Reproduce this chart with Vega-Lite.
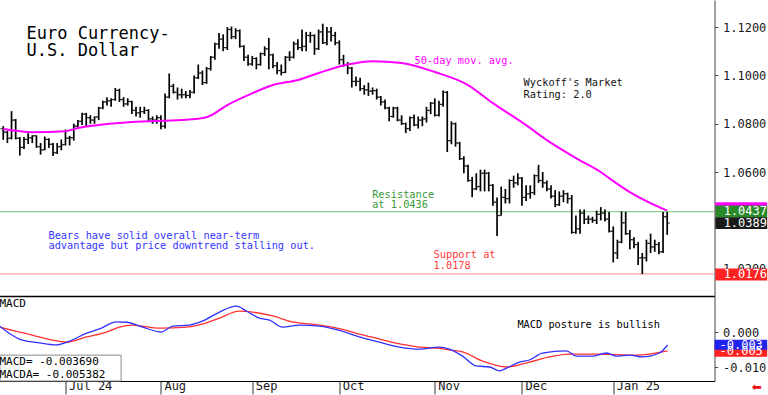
{
  "$schema": "https://vega.github.io/schema/vega-lite/v6.json",
  "padding": {"left": -3.5, "top": 0, "right": 0, "bottom": 0},
  "background": "white",
  "spacing": 0,
  "config": {
    "view": {"stroke": null},
    "axis": {"grid": false, "title": null, "labelFont": "DejaVu Sans Mono", "labelFontSize": 12, "labelColor": "#1a1a1a", "domainColor": "#444", "tickColor": "#444", "labelOverlap": false},
    "text": {"font": "DejaVu Sans Mono"}
  },
  "datasets": {
    "ohlc": [
      {"d":0,"o":1.0780,"h":1.0790,"l":1.0733,"c":1.0765},
      {"d":1,"o":1.0765,"h":1.0770,"l":1.0720,"c":1.0740},
      {"d":2,"o":1.0740,"h":1.0852,"l":1.0735,"c":1.0815},
      {"d":3,"o":1.0815,"h":1.0820,"l":1.0735,"c":1.0740},
      {"d":4,"o":1.0740,"h":1.0745,"l":1.0668,"c":1.0702},
      {"d":5,"o":1.0702,"h":1.0745,"l":1.0695,"c":1.0735},
      {"d":6,"o":1.0735,"h":1.0761,"l":1.0716,"c":1.0742},
      {"d":7,"o":1.0742,"h":1.0752,"l":1.0720,"c":1.0750},
      {"d":8,"o":1.0750,"h":1.0752,"l":1.0700,"c":1.0705},
      {"d":9,"o":1.0705,"h":1.0720,"l":1.0672,"c":1.0692},
      {"d":10,"o":1.0692,"h":1.0747,"l":1.0690,"c":1.0735},
      {"d":11,"o":1.0735,"h":1.0740,"l":1.0700,"c":1.0715},
      {"d":12,"o":1.0715,"h":1.0720,"l":1.0666,"c":1.0680},
      {"d":13,"o":1.0680,"h":1.0720,"l":1.0675,"c":1.0705},
      {"d":14,"o":1.0705,"h":1.0735,"l":1.0690,"c":1.0713},
      {"d":15,"o":1.0713,"h":1.0776,"l":1.0710,"c":1.0740},
      {"d":16,"o":1.0740,"h":1.0750,"l":1.0710,"c":1.0742},
      {"d":17,"o":1.0742,"h":1.0800,"l":1.0730,"c":1.0790},
      {"d":18,"o":1.0790,"h":1.0815,"l":1.0780,"c":1.0810},
      {"d":19,"o":1.0810,"h":1.0845,"l":1.0795,"c":1.0840},
      {"d":20,"o":1.0840,"h":1.0845,"l":1.0790,"c":1.0825},
      {"d":21,"o":1.0825,"h":1.0835,"l":1.0800,"c":1.0815},
      {"d":22,"o":1.0815,"h":1.0830,"l":1.0800,"c":1.0828},
      {"d":23,"o":1.0828,"h":1.0870,"l":1.0815,"c":1.0865},
      {"d":24,"o":1.0865,"h":1.0895,"l":1.0860,"c":1.0890},
      {"d":25,"o":1.0890,"h":1.0910,"l":1.0875,"c":1.0895},
      {"d":26,"o":1.0895,"h":1.0905,"l":1.0870,"c":1.0900},
      {"d":27,"o":1.0900,"h":1.0948,"l":1.0895,"c":1.0938},
      {"d":28,"o":1.0938,"h":1.0945,"l":1.0890,"c":1.0900},
      {"d":29,"o":1.0900,"h":1.0910,"l":1.0870,"c":1.0882},
      {"d":30,"o":1.0882,"h":1.0905,"l":1.0875,"c":1.0892},
      {"d":31,"o":1.0892,"h":1.0895,"l":1.0840,"c":1.0855},
      {"d":32,"o":1.0855,"h":1.0870,"l":1.0830,"c":1.0845},
      {"d":33,"o":1.0845,"h":1.0870,"l":1.0825,"c":1.0850},
      {"d":34,"o":1.0850,"h":1.0870,"l":1.0840,"c":1.0855},
      {"d":35,"o":1.0855,"h":1.0860,"l":1.0810,"c":1.0820},
      {"d":36,"o":1.0820,"h":1.0830,"l":1.0800,"c":1.0815},
      {"d":37,"o":1.0815,"h":1.0835,"l":1.0800,"c":1.0825},
      {"d":38,"o":1.0825,"h":1.0835,"l":1.0777,"c":1.0790},
      {"d":39,"o":1.0790,"h":1.0925,"l":1.0780,"c":1.0910},
      {"d":40,"o":1.0910,"h":1.1008,"l":1.0905,"c":1.0955},
      {"d":41,"o":1.0955,"h":1.0965,"l":1.0925,"c":1.0930},
      {"d":42,"o":1.0930,"h":1.0950,"l":1.0900,"c":1.0920},
      {"d":43,"o":1.0920,"h":1.0945,"l":1.0905,"c":1.0920},
      {"d":44,"o":1.0920,"h":1.0935,"l":1.0905,"c":1.0917},
      {"d":45,"o":1.0917,"h":1.0940,"l":1.0905,"c":1.0930},
      {"d":46,"o":1.0930,"h":1.1000,"l":1.0925,"c":1.0990},
      {"d":47,"o":1.0990,"h":1.1045,"l":1.0985,"c":1.1010},
      {"d":48,"o":1.1010,"h":1.1020,"l":1.0960,"c":1.0970},
      {"d":49,"o":1.0970,"h":1.1035,"l":1.0965,"c":1.1028},
      {"d":50,"o":1.1028,"h":1.1080,"l":1.1020,"c":1.1075},
      {"d":51,"o":1.1075,"h":1.1135,"l":1.1065,"c":1.1130},
      {"d":52,"o":1.1130,"h":1.1175,"l":1.1110,"c":1.1150},
      {"d":53,"o":1.1150,"h":1.1170,"l":1.1100,"c":1.1115},
      {"d":54,"o":1.1115,"h":1.1200,"l":1.1105,"c":1.1190},
      {"d":55,"o":1.1190,"h":1.1202,"l":1.1150,"c":1.1160},
      {"d":56,"o":1.1160,"h":1.1195,"l":1.1150,"c":1.1185},
      {"d":57,"o":1.1185,"h":1.1190,"l":1.1115,"c":1.1120},
      {"d":58,"o":1.1120,"h":1.1125,"l":1.1060,"c":1.1075},
      {"d":59,"o":1.1075,"h":1.1085,"l":1.1040,"c":1.1047},
      {"d":60,"o":1.1047,"h":1.1080,"l":1.1040,"c":1.1070},
      {"d":61,"o":1.1070,"h":1.1075,"l":1.1025,"c":1.1045},
      {"d":62,"o":1.1045,"h":1.1095,"l":1.1040,"c":1.1090},
      {"d":63,"o":1.1090,"h":1.1120,"l":1.1080,"c":1.1110},
      {"d":64,"o":1.1110,"h":1.1155,"l":1.1025,"c":1.1085},
      {"d":65,"o":1.1085,"h":1.1090,"l":1.1030,"c":1.1040},
      {"d":66,"o":1.1040,"h":1.1055,"l":1.1005,"c":1.1020},
      {"d":67,"o":1.1020,"h":1.1045,"l":1.1000,"c":1.1012},
      {"d":68,"o":1.1012,"h":1.1080,"l":1.1010,"c":1.1075},
      {"d":69,"o":1.1075,"h":1.1100,"l":1.1060,"c":1.1075},
      {"d":70,"o":1.1075,"h":1.1140,"l":1.1070,"c":1.1130},
      {"d":71,"o":1.1130,"h":1.1150,"l":1.1105,"c":1.1115},
      {"d":72,"o":1.1115,"h":1.1190,"l":1.1100,"c":1.1120},
      {"d":73,"o":1.1120,"h":1.1180,"l":1.1100,"c":1.1165},
      {"d":74,"o":1.1165,"h":1.1180,"l":1.1135,"c":1.1165},
      {"d":75,"o":1.1165,"h":1.1170,"l":1.1085,"c":1.1110},
      {"d":76,"o":1.1110,"h":1.1190,"l":1.1105,"c":1.1180},
      {"d":77,"o":1.1180,"h":1.1214,"l":1.1130,"c":1.1135},
      {"d":78,"o":1.1135,"h":1.1200,"l":1.1125,"c":1.1180},
      {"d":79,"o":1.1180,"h":1.1200,"l":1.1140,"c":1.1165},
      {"d":80,"o":1.1165,"h":1.1180,"l":1.1125,"c":1.1135},
      {"d":81,"o":1.1135,"h":1.1145,"l":1.1045,"c":1.1065},
      {"d":82,"o":1.1065,"h":1.1085,"l":1.1035,"c":1.1045},
      {"d":83,"o":1.1045,"h":1.1055,"l":1.1005,"c":1.1030},
      {"d":84,"o":1.1030,"h":1.1035,"l":1.0950,"c":1.0975},
      {"d":85,"o":1.0975,"h":1.0995,"l":1.0955,"c":1.0975},
      {"d":86,"o":1.0975,"h":1.0990,"l":1.0935,"c":1.0945},
      {"d":87,"o":1.0945,"h":1.0960,"l":1.0920,"c":1.0940},
      {"d":88,"o":1.0940,"h":1.0970,"l":1.0915,"c":1.0935},
      {"d":89,"o":1.0935,"h":1.0950,"l":1.0920,"c":1.0937},
      {"d":90,"o":1.0937,"h":1.0945,"l":1.0900,"c":1.0910},
      {"d":91,"o":1.0910,"h":1.0915,"l":1.0875,"c":1.0890},
      {"d":92,"o":1.0890,"h":1.0900,"l":1.0860,"c":1.0865},
      {"d":93,"o":1.0865,"h":1.0870,"l":1.0810,"c":1.0830},
      {"d":94,"o":1.0830,"h":1.0870,"l":1.0825,"c":1.0865},
      {"d":95,"o":1.0865,"h":1.0870,"l":1.0810,"c":1.0815},
      {"d":96,"o":1.0815,"h":1.0835,"l":1.0795,"c":1.0800},
      {"d":97,"o":1.0800,"h":1.0805,"l":1.0761,"c":1.0780},
      {"d":98,"o":1.0780,"h":1.0830,"l":1.0770,"c":1.0825},
      {"d":99,"o":1.0825,"h":1.0838,"l":1.0790,"c":1.0795},
      {"d":100,"o":1.0795,"h":1.0830,"l":1.0780,"c":1.0815},
      {"d":101,"o":1.0815,"h":1.0830,"l":1.0790,"c":1.0820},
      {"d":102,"o":1.0820,"h":1.0870,"l":1.0805,"c":1.0855},
      {"d":103,"o":1.0855,"h":1.0890,"l":1.0840,"c":1.0885},
      {"d":104,"o":1.0885,"h":1.0905,"l":1.0830,"c":1.0835},
      {"d":105,"o":1.0835,"h":1.0895,"l":1.0830,"c":1.0880},
      {"d":106,"o":1.0880,"h":1.0937,"l":1.0870,"c":1.0930},
      {"d":107,"o":1.0930,"h":1.0935,"l":1.0683,"c":1.0730},
      {"d":108,"o":1.0730,"h":1.0810,"l":1.0715,"c":1.0800},
      {"d":109,"o":1.0800,"h":1.0805,"l":1.0705,"c":1.0720},
      {"d":110,"o":1.0720,"h":1.0725,"l":1.0650,"c":1.0655},
      {"d":111,"o":1.0655,"h":1.0665,"l":1.0595,"c":1.0625},
      {"d":112,"o":1.0625,"h":1.0630,"l":1.0560,"c":1.0565},
      {"d":113,"o":1.0565,"h":1.0580,"l":1.0496,"c":1.0530},
      {"d":114,"o":1.0530,"h":1.0595,"l":1.0525,"c":1.0540},
      {"d":115,"o":1.0540,"h":1.0610,"l":1.0520,"c":1.0595},
      {"d":116,"o":1.0595,"h":1.0610,"l":1.0520,"c":1.0595},
      {"d":117,"o":1.0595,"h":1.0600,"l":1.0520,"c":1.0545},
      {"d":118,"o":1.0545,"h":1.0550,"l":1.0460,"c":1.0475},
      {"d":119,"o":1.0475,"h":1.0495,"l":1.0335,"c":1.0420},
      {"d":120,"o":1.0420,"h":1.0540,"l":1.0420,"c":1.0495},
      {"d":121,"o":1.0495,"h":1.0530,"l":1.0470,"c":1.0490},
      {"d":122,"o":1.0490,"h":1.0570,"l":1.0470,"c":1.0565},
      {"d":123,"o":1.0565,"h":1.0585,"l":1.0535,"c":1.0555},
      {"d":124,"o":1.0555,"h":1.0595,"l":1.0545,"c":1.0575},
      {"d":125,"o":1.0575,"h":1.0580,"l":1.0460,"c":1.0495},
      {"d":126,"o":1.0495,"h":1.0545,"l":1.0480,"c":1.0510},
      {"d":127,"o":1.0510,"h":1.0545,"l":1.0490,"c":1.0515},
      {"d":128,"o":1.0515,"h":1.0590,"l":1.0505,"c":1.0585},
      {"d":129,"o":1.0585,"h":1.0630,"l":1.0555,"c":1.0565},
      {"d":130,"o":1.0565,"h":1.0600,"l":1.0535,"c":1.0555},
      {"d":131,"o":1.0555,"h":1.0565,"l":1.0520,"c":1.0530},
      {"d":132,"o":1.0530,"h":1.0545,"l":1.0490,"c":1.0500},
      {"d":133,"o":1.0500,"h":1.0525,"l":1.0455,"c":1.0465},
      {"d":134,"o":1.0465,"h":1.0520,"l":1.0460,"c":1.0500},
      {"d":135,"o":1.0500,"h":1.0525,"l":1.0475,"c":1.0510},
      {"d":136,"o":1.0510,"h":1.0515,"l":1.0470,"c":1.0490},
      {"d":137,"o":1.0490,"h":1.0505,"l":1.0345,"c":1.0350},
      {"d":138,"o":1.0350,"h":1.0420,"l":1.0345,"c":1.0365},
      {"d":139,"o":1.0365,"h":1.0445,"l":1.0345,"c":1.0430},
      {"d":140,"o":1.0430,"h":1.0445,"l":1.0385,"c":1.0405},
      {"d":141,"o":1.0405,"h":1.0420,"l":1.0385,"c":1.0405},
      {"d":142,"o":1.0405,"h":1.0415,"l":1.0390,"c":1.0400},
      {"d":143,"o":1.0400,"h":1.0440,"l":1.0385,"c":1.0425},
      {"d":144,"o":1.0425,"h":1.0455,"l":1.0400,"c":1.0430},
      {"d":145,"o":1.0430,"h":1.0445,"l":1.0395,"c":1.0405},
      {"d":146,"o":1.0405,"h":1.0435,"l":1.0350,"c":1.0355},
      {"d":147,"o":1.0355,"h":1.0375,"l":1.0226,"c":1.0265},
      {"d":148,"o":1.0265,"h":1.0320,"l":1.0240,"c":1.0310},
      {"d":149,"o":1.0310,"h":1.0437,"l":1.0305,"c":1.0390},
      {"d":150,"o":1.0390,"h":1.0435,"l":1.0340,"c":1.0345},
      {"d":151,"o":1.0345,"h":1.0360,"l":1.0280,"c":1.0320},
      {"d":152,"o":1.0320,"h":1.0330,"l":1.0285,"c":1.0300},
      {"d":153,"o":1.0300,"h":1.0310,"l":1.0215,"c":1.0245},
      {"d":154,"o":1.0245,"h":1.0265,"l":1.0178,"c":1.0245},
      {"d":155,"o":1.0245,"h":1.0320,"l":1.0230,"c":1.0305},
      {"d":156,"o":1.0305,"h":1.0345,"l":1.0265,"c":1.0290},
      {"d":157,"o":1.0290,"h":1.0320,"l":1.0270,"c":1.0300},
      {"d":158,"o":1.0300,"h":1.0310,"l":1.0260,"c":1.0270},
      {"d":159,"o":1.0270,"h":1.0435,"l":1.0265,"c":1.0415},
      {"d":160,"o":1.0415,"h":1.0435,"l":1.0340,"c":1.0389}
    ],
    "ma": [
      {"d":0,"v":1.0778},{"d":7,"v":1.0765},{"d":15,"v":1.0769},{"d":18,"v":1.0782},
      {"d":31,"v":1.0807},{"d":43,"v":1.0815},{"d":49,"v":1.0827},{"d":54,"v":1.0877},
      {"d":59,"v":1.0918},{"d":65,"v":1.0960},{"d":71,"v":1.0981},{"d":76,"v":1.1010},
      {"d":83,"v":1.1045},{"d":89,"v":1.1059},{"d":96,"v":1.1051},{"d":104,"v":1.1014},
      {"d":112,"v":1.0960},{"d":118,"v":1.0885},{"d":126,"v":1.0794},{"d":131,"v":1.0732},
      {"d":138,"v":1.0658},{"d":144,"v":1.0600},{"d":146,"v":1.0575},{"d":151,"v":1.0517},
      {"d":157,"v":1.0463},{"d":160,"v":1.0440}
    ],
    "macd": [
      {"d":-0.9,"v":0.0017},{"d":3.9,"v":-0.0020},{"d":8.7,"v":-0.0031},{"d":12.8,"v":-0.0037},
      {"d":16.0,"v":-0.0026},{"d":20.1,"v":-0.0003},{"d":23.2,"v":0.0009},{"d":27.3,"v":0.0029},
      {"d":29.7,"v":0.0028},{"d":33.6,"v":0.0014},{"d":38.1,"v":0.0000},{"d":40.8,"v":0.0017},
      {"d":44.9,"v":0.0020},{"d":48.0,"v":0.0031},{"d":52.1,"v":0.0057},{"d":56.2,"v":0.0074},
      {"d":58.6,"v":0.0060},{"d":61.7,"v":0.0040},{"d":64.2,"v":0.0034},{"d":67.3,"v":0.0014},
      {"d":71.4,"v":0.0020},{"d":76.2,"v":0.0017},{"d":81.0,"v":0.0005},{"d":85.8,"v":-0.0014},
      {"d":90.7,"v":-0.0029},{"d":95.5,"v":-0.0043},{"d":100.3,"v":-0.0049},{"d":105.1,"v":-0.0043},
      {"d":107.5,"v":-0.0049},{"d":110.7,"v":-0.0069},{"d":114.0,"v":-0.0097},{"d":117.2,"v":-0.0100},
      {"d":119.6,"v":-0.0111},{"d":121.3,"v":-0.0103},{"d":124.4,"v":-0.0086},{"d":126.8,"v":-0.0080},
      {"d":129.9,"v":-0.0060},{"d":135.7,"v":-0.0054},{"d":138.1,"v":-0.0069},{"d":142.0,"v":-0.0069},
      {"d":145.4,"v":-0.0060},{"d":147.8,"v":-0.0069},{"d":150.9,"v":-0.0066},{"d":154.0,"v":-0.0071},
      {"d":158.1,"v":-0.0060},{"d":160.1,"v":-0.0037}
    ],
    "sig": [
      {"d":-0.9,"v":0.0014},{"d":3.9,"v":0.0000},{"d":7.0,"v":-0.0009},{"d":11.9,"v":-0.0023},
      {"d":15.2,"v":-0.0029},{"d":20.1,"v":-0.0014},{"d":24.9,"v":0.0000},{"d":28.0,"v":0.0014},
      {"d":31.1,"v":0.0020},{"d":37.7,"v":0.0011},{"d":44.2,"v":0.0014},{"d":49.0,"v":0.0026},
      {"d":52.1,"v":0.0040},{"d":56.9,"v":0.0060},{"d":60.1,"v":0.0057},{"d":64.9,"v":0.0046},
      {"d":69.7,"v":0.0029},{"d":76.2,"v":0.0020},{"d":81.0,"v":0.0010},{"d":85.8,"v":-0.0006},
      {"d":90.7,"v":-0.0020},{"d":95.5,"v":-0.0034},{"d":100.3,"v":-0.0043},{"d":105.1,"v":-0.0047},
      {"d":107.5,"v":-0.0051},{"d":110.7,"v":-0.0057},{"d":115.5,"v":-0.0083},{"d":121.3,"v":-0.0100},
      {"d":126.8,"v":-0.0086},{"d":131.6,"v":-0.0071},{"d":136.4,"v":-0.0063},{"d":143.7,"v":-0.0063},
      {"d":152.6,"v":-0.0066},{"d":160.1,"v":-0.0054}
    ],
    "titles": [
      {"d":5.6,"p":1.1150,"t":"Euro Currency-"},
      {"d":5.6,"p":1.1080,"t":"U.S. Dollar"}
    ],
    "notes": [
      {"d":99.1,"p":1.1047,"t":"50-day mov. avg.","g":"ma"},
      {"d":125.4,"p":1.0956,"t":"Wyckoff's Market","g":"wy"},
      {"d":125.4,"p":1.0906,"t":"Rating: 2.0","g":"wy"},
      {"d":88.9,"p":1.0492,"t":"Resistance","g":"res"},
      {"d":88.9,"p":1.0451,"t":"at 1.0436","g":"res"},
      {"d":10.9,"p":1.0322,"t":"Bears have solid overall near-term","g":"bear"},
      {"d":10.9,"p":1.0281,"t":"advantage but price downtrend stalling out.","g":"bear"},
      {"d":103.7,"p":1.0244,"t":"Support at","g":"sup"},
      {"d":103.7,"p":1.0198,"t":"1.0178","g":"sup"}
    ],
    "levels": [
      {"p":1.0436,"g":"res"},
      {"p":1.0178,"g":"sup"}
    ],
    "pbox": [
      {"d1":171.6,"d2":184.1,"lo":1.0425,"hi":1.0475,"tx":173.6,"p":1.0450,"t":"","g":"ma"},
      {"d1":171.6,"d2":184.1,"lo":1.0412,"hi":1.0462,"tx":173.6,"p":1.0437,"t":"1.0437","g":"res"},
      {"d1":171.6,"d2":184.1,"lo":1.0364,"hi":1.0413,"tx":173.6,"p":1.0389,"t":"1.0389","g":"last"},
      {"d1":171.6,"d2":184.1,"lo":1.0151,"hi":1.0201,"tx":173.6,"p":1.0176,"t":"1.0176","g":"sup"}
    ],
    "mbox": [
      {"d1":171.4,"d2":184.1,"lo":-0.0071,"hi":-0.0037,"tx":172.6,"v":-0.0054,"t":"-0.005","g":"sig"},
      {"d1":171.4,"d2":184.1,"lo":-0.0051,"hi":-0.0022,"tx":172.6,"v":-0.0037,"t":"-0.003","g":"macd"}
    ],
    "legendbox": [{"d1":-0.8,"d2":28.4,"lo":-0.0140,"hi":-0.0066}],
    "mnotes": [
      {"d":-0.9,"v":0.0071,"t":"MACD"},
      {"d":-0.9,"v":-0.0094,"t":"MACD=   -0.003690"},
      {"d":-0.9,"v":-0.0131,"t":"MACDA=  -0.005382"}
    ],
    "posture": [{"d":123.9,"v":0.0011,"t":"MACD posture is bullish"}],
    "arrow": [{"d":181.6,"v":-0.0158,"t":"⬅"}]
  },
  "vconcat": [
    {
      "width": 715,
      "height": 296,
      "layer": [
        {
          "data": {"name": "levels"},
          "mark": {"type": "rule", "strokeWidth": 1.2, "clip": false},
          "encoding": {
            "y": {"field": "p", "type": "quantitative", "title": null,
              "scale": {"domain": [1.0087, 1.1312], "nice": false, "zero": false},
              "axis": {"orient": "right", "values": [1.02, 1.04, 1.06, 1.08, 1.1, 1.12],
                "format": ".4f", "tickSize": 3, "labelPadding": 5, "labelOverlap": false, "labelFlush": false, "zindex": 0}},
            "stroke": {"field": "g", "type": "nominal", "legend": null,
              "scale": {"domain": ["res", "sup"], "range": ["#8fd08f", "#ff8c8c"]}}
          }
        },
        {
          "data": {"name": "ohlc"},
          "mark": {"type": "rule", "color": "#000000", "strokeWidth": 1.7},
          "encoding": {
            "x": {"field": "d", "type": "quantitative", "title": null,
              "scale": {"domain": [-0.9, 171.4], "nice": false, "zero": false},
              "axis": {"orient": "bottom", "labels": false, "ticks": false, "domain": true, "domainColor": "#000000", "domainWidth": 1.5}},
            "y": {"field": "l", "type": "quantitative", "title": null},
            "y2": {"field": "h"}
          }
        },
        {
          "data": {"name": "ohlc"},
          "mark": {"type": "tick", "orient": "horizontal", "color": "#000000", "size": 2.5, "thickness": 1.2, "xOffset": -1.5},
          "encoding": {
            "x": {"field": "d", "type": "quantitative", "title": null},
            "y": {"field": "o", "type": "quantitative", "title": null}
          }
        },
        {
          "data": {"name": "ohlc"},
          "mark": {"type": "tick", "orient": "horizontal", "color": "#000000", "size": 2.5, "thickness": 1.2, "xOffset": 1.5},
          "encoding": {
            "x": {"field": "d", "type": "quantitative", "title": null},
            "y": {"field": "c", "type": "quantitative", "title": null}
          }
        },
        {
          "data": {"name": "ma"},
          "mark": {"type": "line", "color": "#ff00ff", "strokeWidth": 2, "interpolate": "monotone"},
          "encoding": {
            "x": {"field": "d", "type": "quantitative", "title": null},
            "y": {"field": "v", "type": "quantitative", "title": null}
          }
        },
        {
          "data": {"name": "titles"},
          "mark": {"type": "text", "align": "left", "baseline": "alphabetic", "fontSize": 17, "color": "#000000"},
          "encoding": {
            "x": {"field": "d", "type": "quantitative", "title": null},
            "y": {"field": "p", "type": "quantitative", "title": null},
            "text": {"field": "t"}
          }
        },
        {
          "data": {"name": "notes"},
          "mark": {"type": "text", "align": "left", "baseline": "alphabetic", "fontSize": 10.3},
          "encoding": {
            "x": {"field": "d", "type": "quantitative", "title": null},
            "y": {"field": "p", "type": "quantitative", "title": null},
            "text": {"field": "t"},
            "color": {"field": "g", "type": "nominal", "legend": null,
              "scale": {"domain": ["ma", "wy", "res", "bear", "sup"], "range": ["#ff00ff", "#111111", "#3a9a3a", "#3535ff", "#ff3b3b"]}}
          }
        },
        {
          "data": {"name": "pbox"},
          "mark": {"type": "rect", "clip": false},
          "encoding": {
            "x": {"field": "d1", "type": "quantitative", "title": null},
            "x2": {"field": "d2"},
            "y": {"field": "lo", "type": "quantitative", "title": null},
            "y2": {"field": "hi"},
            "fill": {"field": "g", "type": "nominal", "legend": null,
              "scale": {"domain": ["ma", "res", "last", "sup", "sig", "macd"], "range": ["#ff00ff", "#2a8a2a", "#1a1a1a", "#ff2222", "#ff2222", "#2222ee"]}}
          }
        },
        {
          "data": {"name": "pbox"},
          "mark": {"type": "text", "align": "left", "baseline": "middle", "fontSize": 12, "color": "#ffffff", "clip": false},
          "encoding": {
            "x": {"field": "tx", "type": "quantitative", "title": null},
            "y": {"field": "p", "type": "quantitative", "title": null},
            "text": {"field": "t"}
          }
        }
      ]
    },
    {
      "width": 715,
      "height": 85,
      "layer": [
        {
          "data": {"name": "legendbox"},
          "mark": {"type": "rect", "fill": "#ffffff", "stroke": "#8a8a8a", "strokeWidth": 1, "clip": false},
          "encoding": {
            "x": {"field": "d1", "type": "quantitative", "title": null,
              "scale": {"domain": [-0.9, 171.4], "nice": false, "zero": false},
              "axis": {"orient": "bottom", "values": [15, 38, 60, 81, 104, 125, 147],
                "labelExpr": "datum.value == 15 ? 'Jul 24' : datum.value == 38 ? 'Aug' : datum.value == 60 ? 'Sep' : datum.value == 81 ? 'Oct' : datum.value == 104 ? 'Nov' : datum.value == 125 ? 'Dec' : 'Jan 25'",
                "tickSize": 13, "labelAlign": "left", "labelBaseline": "top", "labelPadding": -14, "labelOffset": 3,
                "domainColor": "#000000", "tickColor": "#333333", "labelOverlap": false, "labelFlush": false}},
            "x2": {"field": "d2"},
            "y": {"field": "lo", "type": "quantitative", "title": null,
              "scale": {"domain": [-0.014, 0.0103], "nice": false, "zero": false},
              "axis": {"orient": "right", "values": [-0.01, 0],
                "labelExpr": "datum.value == 0 ? '0.000' : '-0.010'",
                "tickSize": 3, "labelPadding": 5, "labelOverlap": false, "labelFlush": false, "zindex": 0}},
            "y2": {"field": "hi"}
          }
        },
        {
          "data": {"name": "sig"},
          "mark": {"type": "line", "color": "#ff3030", "strokeWidth": 1.3, "interpolate": "monotone"},
          "encoding": {
            "x": {"field": "d", "type": "quantitative", "title": null},
            "y": {"field": "v", "type": "quantitative", "title": null}
          }
        },
        {
          "data": {"name": "macd"},
          "mark": {"type": "line", "color": "#3030ff", "strokeWidth": 1.3, "interpolate": "monotone"},
          "encoding": {
            "x": {"field": "d", "type": "quantitative", "title": null},
            "y": {"field": "v", "type": "quantitative", "title": null}
          }
        },
        {
          "data": {"name": "mnotes"},
          "mark": {"type": "text", "align": "left", "baseline": "alphabetic", "fontSize": 11, "color": "#000000", "clip": false},
          "encoding": {
            "x": {"field": "d", "type": "quantitative", "title": null},
            "y": {"field": "v", "type": "quantitative", "title": null},
            "text": {"field": "t"}
          }
        },
        {
          "data": {"name": "posture"},
          "mark": {"type": "text", "align": "left", "baseline": "alphabetic", "fontSize": 10.3, "color": "#000000"},
          "encoding": {
            "x": {"field": "d", "type": "quantitative", "title": null},
            "y": {"field": "v", "type": "quantitative", "title": null},
            "text": {"field": "t"}
          }
        },
        {
          "data": {"name": "mbox"},
          "mark": {"type": "rect", "clip": false},
          "encoding": {
            "x": {"field": "d1", "type": "quantitative", "title": null},
            "x2": {"field": "d2"},
            "y": {"field": "lo", "type": "quantitative", "title": null},
            "y2": {"field": "hi"},
            "fill": {"field": "g", "type": "nominal", "legend": null,
              "scale": {"domain": ["ma", "res", "last", "sup", "sig", "macd"], "range": ["#ff00ff", "#2a8a2a", "#1a1a1a", "#ff2222", "#ff2222", "#2222ee"]}}
          }
        },
        {
          "data": {"name": "mbox"},
          "mark": {"type": "text", "align": "left", "baseline": "middle", "fontSize": 12, "color": "#ffffff", "clip": false},
          "encoding": {
            "x": {"field": "tx", "type": "quantitative", "title": null},
            "y": {"field": "v", "type": "quantitative", "title": null},
            "text": {"field": "t"}
          }
        },
        {
          "data": {"name": "arrow"},
          "mark": {"type": "text", "align": "center", "baseline": "middle", "fontSize": 12, "font": "DejaVu Sans", "color": "#ee1111", "clip": false},
          "encoding": {
            "x": {"field": "d", "type": "quantitative", "title": null},
            "y": {"field": "v", "type": "quantitative", "title": null},
            "text": {"field": "t"}
          }
        }
      ]
    }
  ]
}
